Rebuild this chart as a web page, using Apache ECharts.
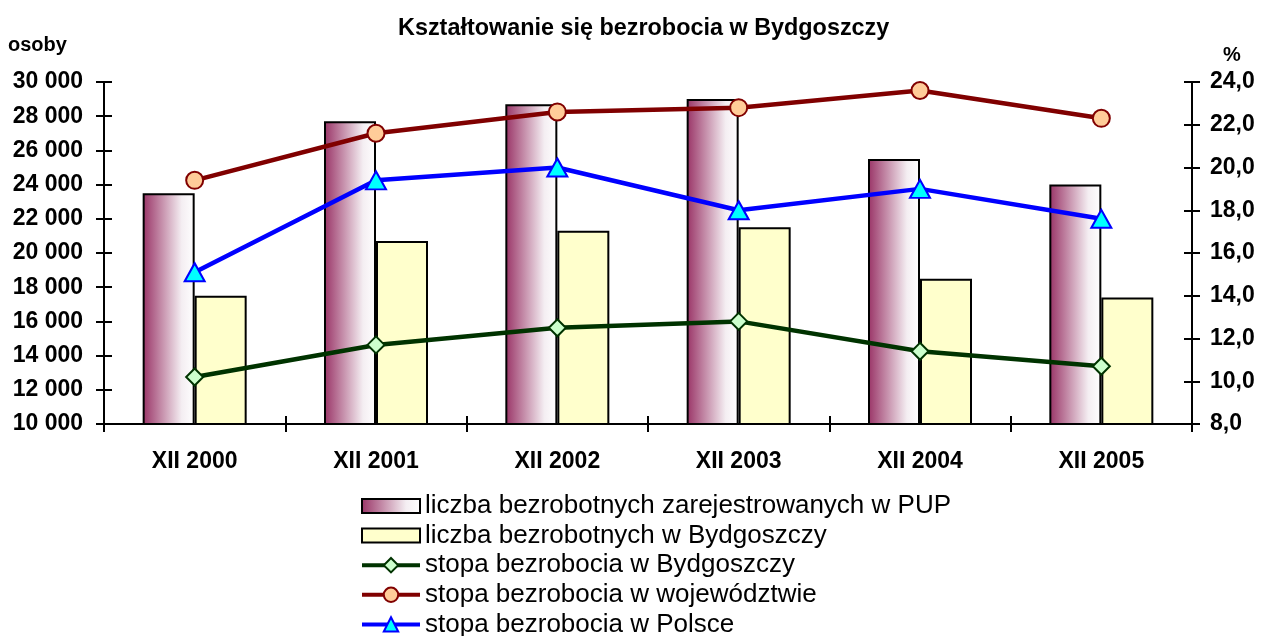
<!DOCTYPE html>
<html>
<head>
<meta charset="utf-8">
<title>Kształtowanie się bezrobocia w Bydgoszczy</title>
<script src="https://cdn.jsdelivr.net/npm/echarts@6/dist/echarts.min.js"></script>
<style>
    html, body { margin: 0; padding: 0; background: #fff; }
    #chart { width: 1267px; height: 636px; }
</style>
</head>
<body>
<div id="chart"></div>
<script>
// dane
var categories = ['XII 2000', 'XII 2001', 'XII 2002', 'XII 2003', 'XII 2004', 'XII 2005'];
var zarejestrowaniPUP = [23500, 27700, 28700, 29000, 25500, 24000];
var bezrobotniBydgoszcz = [17500, 20700, 21300, 21500, 18500, 17400];
var stopaBydgoszcz = [10.2, 11.7, 12.5, 12.8, 11.4, 10.7];
var stopaWojewodztwo = [19.4, 21.6, 22.6, 22.8, 23.6, 22.3];
var stopaPolska = [15.1, 19.4, 20.0, 18.0, 19.0, 17.6];

var seriesNames = [
    'liczba bezrobotnych zarejestrowanych w PUP',
    'liczba bezrobotnych w Bydgoszczy',
    'stopa bezrobocia w Bydgoszczy',
    'stopa bezrobocia w województwie',
    'stopa bezrobocia w Polsce'
];

var FONT = "'Liberation Sans', Arial, sans-serif";

var chart = echarts.init(document.getElementById('chart'));

var axisLabelStyle = {
    color: '#000',
    fontFamily: FONT,
    fontWeight: 'bold',
    fontSize: 23
};
var blackLine = { color: '#000', width: 2 };

// osie pomocnicze - kreski przechodzace przez os (do srodka)
function innerTicksY(pos, min, max, interval) {
    return {
        type: 'value', position: pos, min: min, max: max, interval: interval,
        axisLine: { show: false },
        axisTick: { show: true, inside: true, length: 8, lineStyle: blackLine },
        axisLabel: { show: false },
        splitLine: { show: false }
    };
}

var pupGradient = new echarts.graphic.LinearGradient(0, 0, 1, 0, [
    { offset: 0, color: '#993366' },
    { offset: 0.75, color: '#f4eef2' },
    { offset: 1, color: '#ffffff' }
]);

function lineSeries(name, data, lineColor, symbol, size, fill) {
    return {
        name: name,
        type: 'line',
        yAxisIndex: 1,
        data: data,
        symbol: symbol,
        symbolSize: size,
        z: 5,
        lineStyle: { color: lineColor, width: 4.5 },
        itemStyle: { color: fill, borderColor: lineColor, borderWidth: 2 }
    };
}

// prostokat w legendzie dla slupkow (zachowuje proporcje 58x14)
var barIcon = 'path://M0,0 L58,0 L58,14 L0,14 Z';

var option = {
    backgroundColor: '#fff',
    animation: false,
    title: {
        text: 'Kształtowanie się bezrobocia w Bydgoszczy',
        left: 393,
        top: 12,
        textStyle: { color: '#000', fontFamily: FONT, fontWeight: 'bold', fontSize: 23.4 }
    },
    graphic: [
        { type: 'text', left: 8, top: 35, style: { text: 'osoby', fill: '#000', font: 'bold 20px ' + FONT } },
        { type: 'text', left: 1223, top: 45, style: { text: '%', fill: '#000', font: 'bold 20px ' + FONT } }
    ],
    legend: {
        orient: 'vertical',
        left: 355,
        top: 488,
        height: 220,
        itemWidth: 58,
        itemHeight: 18,
        itemGap: 3.6,
        lineStyle: { width: 4 },
        data: [
            { name: seriesNames[0], icon: barIcon },
            { name: seriesNames[1], icon: barIcon },
            { name: seriesNames[2] },
            { name: seriesNames[3] },
            { name: seriesNames[4] }
        ],
        textStyle: { color: '#000', fontFamily: FONT, fontSize: 26, lineHeight: 26 }
    },
    grid: { left: 104, right: 75, top: 82, bottom: 212, containLabel: false },
    xAxis: [{
        type: 'category',
        data: categories,
        position: 'bottom',
        axisLine: { lineStyle: blackLine },
        axisTick: { show: true, length: 8, lineStyle: blackLine },
        axisLabel: { margin: 26, color: '#000', fontFamily: FONT, fontWeight: 'bold', fontSize: 23 }
    }, {
        type: 'category',
        data: categories,
        position: 'bottom',
        axisLine: { show: false },
        axisTick: { show: true, inside: true, length: 8, lineStyle: blackLine },
        axisLabel: { show: false }
    }],
    yAxis: [{
        type: 'value',
        position: 'left',
        min: 10000, max: 30000, interval: 2000,
        axisLine: { show: true, lineStyle: blackLine },
        axisTick: { show: true, length: 8, lineStyle: blackLine },
        splitLine: { show: false },
        axisLabel: Object.assign({
            margin: 21,
            formatter: function (v) { return String(v).replace(/\B(?=(\d{3})+(?!\d))/g, ' '); }
        }, axisLabelStyle)
    }, {
        type: 'value',
        position: 'right',
        min: 8, max: 24, interval: 2,
        axisLine: { show: true, lineStyle: blackLine },
        axisTick: { show: true, length: 8, lineStyle: blackLine },
        splitLine: { show: false },
        axisLabel: Object.assign({
            margin: 18,
            formatter: function (v) { return v.toFixed(1).replace('.', ','); }
        }, axisLabelStyle)
    },
        innerTicksY('left', 10000, 30000, 2000),
        innerTicksY('right', 8, 24, 2)
    ],
    series: [{
        name: seriesNames[0],
        type: 'bar',
        data: zarejestrowaniPUP,
        barWidth: 52,
        barGap: '0%',
        itemStyle: { color: pupGradient, borderColor: '#000', borderWidth: 2 }
    }, {
        name: seriesNames[1],
        type: 'bar',
        data: bezrobotniBydgoszcz,
        barWidth: 52,
        barGap: '0%',
        itemStyle: { color: '#ffffcc', borderColor: '#000', borderWidth: 2 }
    },
        lineSeries(seriesNames[2], stopaBydgoszcz, '#003300', 'diamond', 17, '#ccffcc'),
        lineSeries(seriesNames[3], stopaWojewodztwo, '#800000', 'circle', 17, '#ffcc99'),
        lineSeries(seriesNames[4], stopaPolska, '#0000ff', 'triangle', [20, 18], '#00ffff')
    ]
};

chart.setOption(option);
</script>
</body>
</html>
